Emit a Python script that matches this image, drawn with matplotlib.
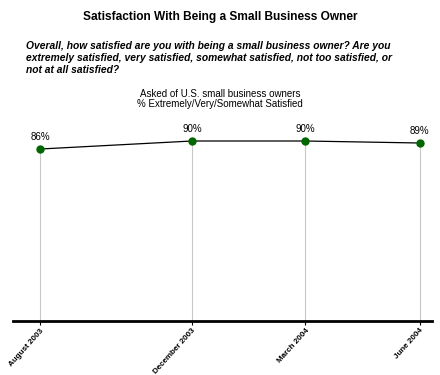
import matplotlib.pyplot as plt
import matplotlib.dates as mdates
from datetime import date, timedelta

# Data ==========================
labels = ['August 2003', 'December 2003', 'March 2004', 'June 2004']
dates = [date(2003, 8, 1), date(2003, 12, 1), date(2004, 3, 1), date(2004, 6, 1)]
values = [86, 90, 90, 89]

plt.rcParams['font.family'] = ['Liberation Sans', 'DejaVu Sans']

fig = plt.figure(figsize=(4.4, 3.75), dpi=100)
ax = fig.add_axes([13 / 440, 54 / 375, 419 / 440, 200 / 375])

x = mdates.date2num(dates)

# grey drop lines from each point to the axis
ax.vlines(x, 0, values, color='#c8c8c8', lw=0.8, zorder=1)
ax.plot(x, values, color='black', lw=0.9, zorder=2)
ax.plot(x, values, 'o', color='#006600', ms=5, zorder=3)

for xi, v in zip(x, values):
    ax.annotate(f'{v}%', (xi, v), xytext=(0, 5), textcoords='offset points',
                ha='center', va='bottom', fontsize=7)

ax.set_xlim(mdates.date2num(date(2003, 8, 1) - timedelta(days=22)),
            mdates.date2num(date(2004, 6, 1) + timedelta(days=10)))
ax.set_ylim(0, 100)

for s in ['top', 'right', 'left']:
    ax.spines[s].set_visible(False)
ax.spines['bottom'].set_linewidth(2)
ax.set_yticks([])
ax.set_xticks(x)
ax.set_xticklabels(labels, rotation=48, ha='right', rotation_mode='anchor',
                   fontsize=5.8, fontweight='bold')
ax.tick_params(axis='x', length=3, width=0.8, pad=1.5)

fig.text(0.5, 1 - 17 / 375, 'Satisfaction With Being a Small Business Owner',
         ha='center', va='center', fontsize=8.6, fontweight='bold')
fig.text(26 / 440, 1 - 41 / 375,
         'Overall, how satisfied are you with being a small business owner? Are you\n'
         'extremely satisfied, very satisfied, somewhat satisfied, not too satisfied, or\n'
         'not at all satisfied?',
         ha='left', va='top', fontsize=7.4, fontweight='bold', style='italic',
         linespacing=1.22)
fig.text(0.5, 1 - 99 / 375, 'Asked of U.S. small business owners\n% Extremely/Very/Somewhat Satisfied',
         ha='center', va='center', fontsize=7, linespacing=1.1)

fig.savefig('out.png', dpi=100)
